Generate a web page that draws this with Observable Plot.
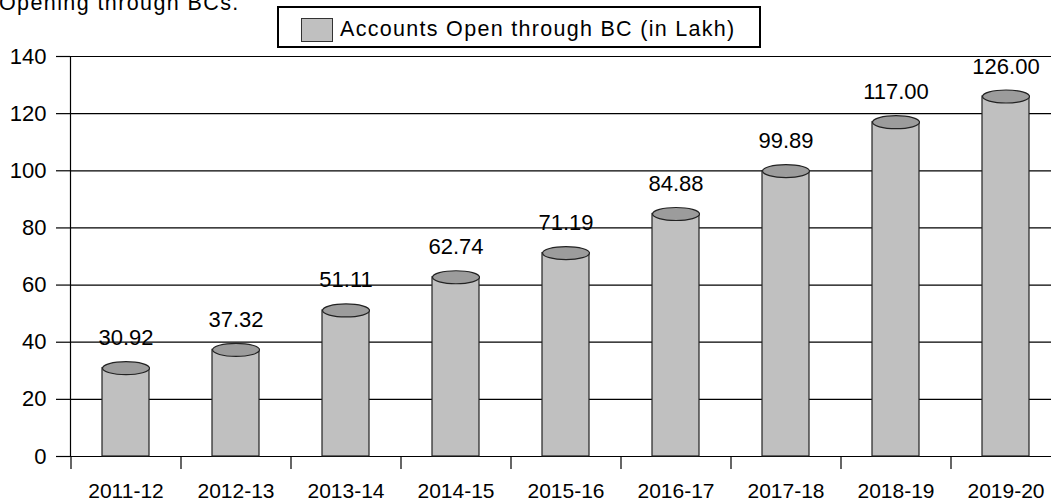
<!DOCTYPE html>
<html>
<head>
<meta charset="utf-8">
<script src="https://cdn.jsdelivr.net/npm/d3@7"></script>
<script src="https://cdn.jsdelivr.net/npm/@observablehq/plot@0.6"></script>
<style>
  html, body { margin: 0; padding: 0; background: white; overflow: hidden; }
  #wrap { position: relative; width: 1051px; height: 502px; }
  #head { position: absolute; left: 0; top: 0; z-index: 2; }
  #chart svg { overflow: hidden; }
</style>
</head>
<body>
<div id="wrap">
<div id="chart"></div>
<svg id="head" width="1051" height="50" font-family="'Liberation Sans', Arial, sans-serif">
  <text x="-1" y="10" font-size="21.5" letter-spacing="1.4" fill="black">Opening through BCs.</text>
  <rect x="278" y="7" width="482" height="40" fill="white" stroke="black" stroke-width="2"></rect>
  <rect x="301.5" y="18.5" width="31" height="23" fill="#c0c0c0" stroke="#333" stroke-width="1"></rect>
  <text id="legtext" x="340" y="36" font-size="21.5" letter-spacing="1.3" fill="black"></text>
</svg>
</div>
<script>
const categories = ["2011-12","2012-13","2013-14","2014-15","2015-16","2016-17","2017-18","2018-19","2019-20"];
const values = [30.92, 37.32, 51.11, 62.74, 71.19, 84.88, 99.89, 117.00, 126.00];
const yTicks = [0, 20, 40, 60, 80, 100, 120, 140];
const seriesName = "Accounts Open through BC (in Lakh)";

document.getElementById("legtext").textContent = seriesName;

const data = categories.map((c, i) => ({cat: c, value: values[i]}));

const xRange = [70, 1060];
const step = (xRange[1] - xRange[0]) / categories.length;
const pad = 0.573;
const halfW = step * (1 - pad) / 2;

const ellipseSymbol = {
  draw(ctx, size) {
    const rx = Math.sqrt(size / Math.PI);
    const ry = 6.5;
    const k = 0.5523;
    ctx.moveTo(rx, 0);
    ctx.bezierCurveTo(rx, k * ry, k * rx, ry, 0, ry);
    ctx.bezierCurveTo(-k * rx, ry, -rx, k * ry, -rx, 0);
    ctx.bezierCurveTo(-rx, -k * ry, -k * rx, -ry, 0, -ry);
    ctx.bezierCurveTo(k * rx, -ry, rx, -k * ry, rx, 0);
    ctx.closePath();
  }
};

const chart = Plot.plot({
  width: 1051,
  height: 502,
  marginTop: 56,
  marginBottom: 46,
  marginLeft: 70,
  marginRight: 0,
  style: {fontFamily: "'Liberation Sans', Arial, sans-serif", fontSize: "21px", color: "black", overflow: "hidden", background: "white"},
  x: {domain: categories, range: xRange, paddingInner: pad, paddingOuter: pad / 2},
  y: {domain: [0, 140]},
  marks: [
    Plot.gridY({ticks: yTicks, stroke: "black", strokeOpacity: 1, strokeWidth: 1.2}),
    Plot.frame({anchor: "left", stroke: "black", strokeWidth: 1.2}),
    Plot.axisY({ticks: yTicks, tickSize: 14, tickPadding: 10, fontSize: 22, label: null, stroke: "black", strokeWidth: 1.2}),
    Plot.axisX({tickSize: 13, tickFormat: () => "", dx: -step / 2, label: null, stroke: "black", strokeWidth: 1.2}),
    Plot.axisX({tickSize: 0, tickPadding: 27, fontSize: 21, label: null}),
    Plot.barY(data, {x: "cat", y: "value", fill: "#c0c0c0", stroke: "#222", strokeWidth: 1.2}),
    Plot.dot(data, {x: "cat", y: "value", r: halfW, symbol: ellipseSymbol, fill: "#9c9c9c", stroke: "#222", strokeWidth: 1.2}),
    Plot.text(data, {x: "cat", y: "value", text: d => d.value.toFixed(2), dy: -23, lineAnchor: "bottom", fontSize: 22, fill: "black"})
  ]
});
document.getElementById("chart").appendChild(chart);
</script>
</body>
</html>
